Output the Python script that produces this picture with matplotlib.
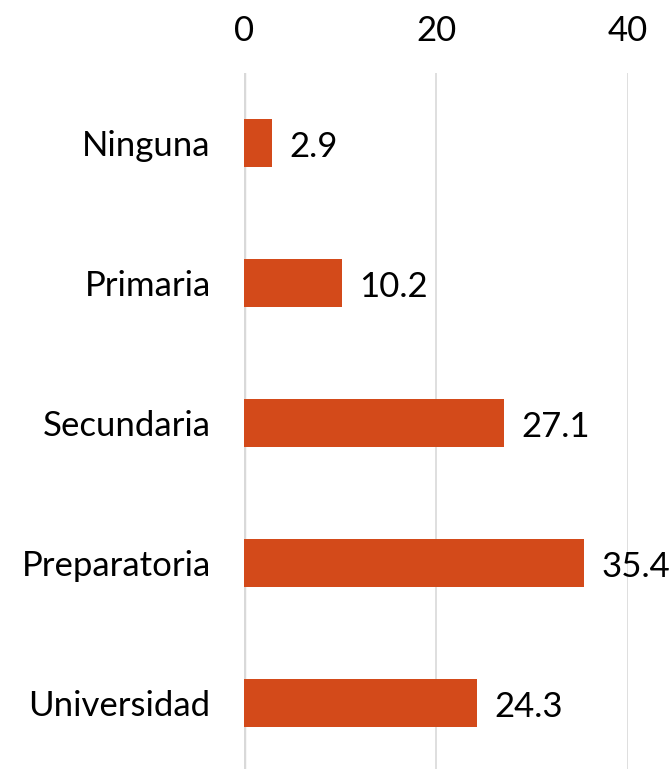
import matplotlib.pyplot as plt

categories = ["Ninguna", "Primaria", "Secundaria", "Preparatoria", "Universidad"]
values = [2.9, 10.2, 27.1, 35.4, 24.3]
ticks = [0, 20, 40]

plt.rcParams['font.family'] = ['Lato', 'DejaVu Sans']

fig = plt.figure(figsize=(6.69, 7.69), dpi=100)
ax = fig.add_axes([244 / 669, -4 / 769, 384 / 669, 700 / 769])

y = list(range(len(categories)))
bars = ax.barh(y, values, height=0.345, color="#D34A1A", zorder=3)

for yi, v in zip(y, values):
    ax.text(v + 1.8, yi + 0.03, f"{v:.1f}", va="center", ha="left", fontsize=25,
            color="black", zorder=4)

ax.set_xlim(0, 40)
ax.set_ylim(len(categories) - 0.5, -0.5)
ax.set_yticks(y)
ax.set_yticklabels(categories, fontsize=25)
ax.set_xticks(ticks)
ax.set_xticklabels([str(t) for t in ticks], fontsize=25)
ax.xaxis.tick_top()
ax.tick_params(axis="both", length=0)
ax.tick_params(axis="x", pad=19)
ax.tick_params(axis="y", pad=24)

ax.grid(axis="x", color="#D9D9D9", linewidth=1.2, zorder=0)
for s in ["top", "right", "bottom", "left"]:
    ax.spines[s].set_visible(False)
ax.axvline(0, color="#D9D9D9", linewidth=2.5, zorder=2)

fig.savefig("out.png", dpi=100)
